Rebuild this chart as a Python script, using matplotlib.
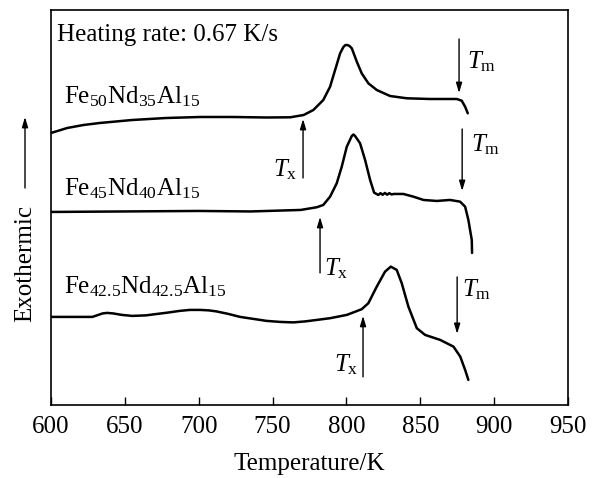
import matplotlib
matplotlib.use('Agg')
import matplotlib.pyplot as plt

plt.rcParams['font.family'] = ['Liberation Serif', 'DejaVu Serif']
plt.rcParams['mathtext.fontset'] = 'custom'
plt.rcParams['mathtext.rm'] = 'Liberation Serif'
plt.rcParams['mathtext.it'] = 'Liberation Serif:italic'

# DSC traces (temperature in K, signal in arbitrary units)
t1 = [600, 611, 622, 633, 655, 678, 701, 723, 746, 762, 771, 777.6, 784.3, 788.9,
      792.3, 795.7, 797.9, 799.3, 800.6, 802.1, 803.6, 807.0, 810.3, 814.8, 820.5,
      829.5, 840.8, 856.6, 874.7, 878.0, 880.3, 882.1]
s1 = [272, 277, 280, 282, 285, 287, 288, 288, 287.5, 287.7, 290, 295, 305, 318.3,
      335, 351.7, 358, 360, 360, 359, 356.7, 343.3, 331.7, 321.7, 315,
      309, 306.7, 306, 306, 304.3, 298.3, 291.7]

t2 = [600, 650, 700, 735, 769, 779.9, 784.3, 788.9, 793.4, 796.8, 800.2, 803.6,
      804.7, 805.8, 809.2, 812.6, 816.0, 818.7, 821.6, 823, 824.5, 826, 827.5, 829,
      830.5, 832, 838.5, 845.3, 852.1, 861.1, 870.1, 876.9, 880.3, 882.5, 884.8, 885]
s2 = [193, 193.5, 194, 193.5, 195, 197.7, 200, 208.3, 221.7, 238.3, 258.3, 269,
      270.5, 269, 261.7, 245, 225, 212.3, 210, 211.8, 210.2, 212, 210.3, 211.8,
      210.5, 211, 211, 208.3, 205, 204, 205, 203.3, 198.3, 185, 165, 152]

t3 = [600, 628, 631, 635, 638, 642, 648, 655, 664, 672, 680, 687, 694, 701, 707,
      712, 720, 728, 737, 746, 755, 764, 772, 780, 788.9, 800.2, 810.3, 814.8,
      820.5, 826.1, 830.0, 834.0, 837.4, 841.9, 847.6, 853.2, 863.4, 872.4, 877.0,
      880.3, 882.5]
s3 = [88, 88, 89.5, 91.5, 92, 91.5, 90, 89, 89.5, 91, 92.5, 94, 95, 95, 94.5,
      93.5, 91, 88, 86, 84, 83, 82.5, 83.5, 85, 86.7, 90, 95.7, 101.7,
      118.3, 133.3, 138.3, 135, 121.7, 98.3, 76.7, 70, 65, 58.3, 48.3,
      35, 25]

temps = [t1, t2, t3]
signals = [s1, s2, s3]
names = [r'Fe$_{50}$Nd$_{35}$Al$_{15}$',
         r'Fe$_{45}$Nd$_{40}$Al$_{15}$',
         r'Fe$_{42.5}$Nd$_{42.5}$Al$_{15}$']
name_pos = [(609, 308), (609, 216), (609, 118)]

# arrows: (temperature, tail, head), label position, alignment
tx_arrows = [(770.6, 227, 286), (782.1, 132, 188), (811.2, 28, 89)]
tx_labels = [(766.5, 235, 'right'), (784.8, 136, 'left'), (808, 40, 'right')]
tm_arrows = [(876.2, 366, 312), (878.3, 276, 214), (874.9, 128, 71)]
tm_labels = [(881.5, 343, 'left'), (884.5, 260, 'left'), (878, 115, 'left')]

fig = plt.figure(figsize=(5.93, 4.78), dpi=100)
ax = fig.add_axes([0.086, 0.153, 0.872, 0.826])

for t, s in zip(temps, signals):
    ax.plot(t, s, color='black', lw=1.8, solid_joinstyle='round', solid_capstyle='round')

for (x, y), name in zip(name_pos, names):
    ax.text(x, y, name, fontsize=18, va='center', ha='left')

ax.text(604, 370, 'Heating rate: 0.67 K/s', fontsize=18, va='center', ha='left')

arrow = dict(arrowstyle='-|>,head_length=0.6,head_width=0.18', color='black', lw=1.0,
             shrinkA=0, shrinkB=0)
for (x, tail, head), (lx, ly, ha) in zip(tx_arrows, tx_labels):
    ax.annotate('', xy=(x, head), xytext=(x, tail), arrowprops=arrow)
    ax.text(lx, ly, r'$T_{\rm x}$', fontsize=18, va='center', ha=ha)
for (x, tail, head), (lx, ly, ha) in zip(tm_arrows, tm_labels):
    ax.annotate('', xy=(x, head), xytext=(x, tail), arrowprops=arrow)
    ax.text(lx, ly, r'$T_{\rm m}$', fontsize=18, va='center', ha=ha)

ax.set_xlim(600, 950)
ax.set_ylim(0, 395)
ax.set_xticks([600, 650, 700, 750, 800, 850, 900, 950])
ax.set_yticks([])
ax.tick_params(axis='x', direction='in', length=6, width=1.0, labelsize=18, pad=8)
for sp in ax.spines.values():
    sp.set_linewidth(1.2)
ax.set_xlabel('Temperature/K', fontsize=18, labelpad=11)

# y label with an upward arrow
fig.text(25 / 593, 1 - 264 / 478, 'Exothermic', rotation=90, fontsize=18,
         ha='center', va='center')
ax.annotate('', xy=(25 / 593, 1 - 117 / 478), xytext=(25 / 593, 1 - 188 / 478),
            xycoords='figure fraction', textcoords='figure fraction',
            arrowprops=arrow, annotation_clip=False)

fig.savefig('out.png', dpi=100)
